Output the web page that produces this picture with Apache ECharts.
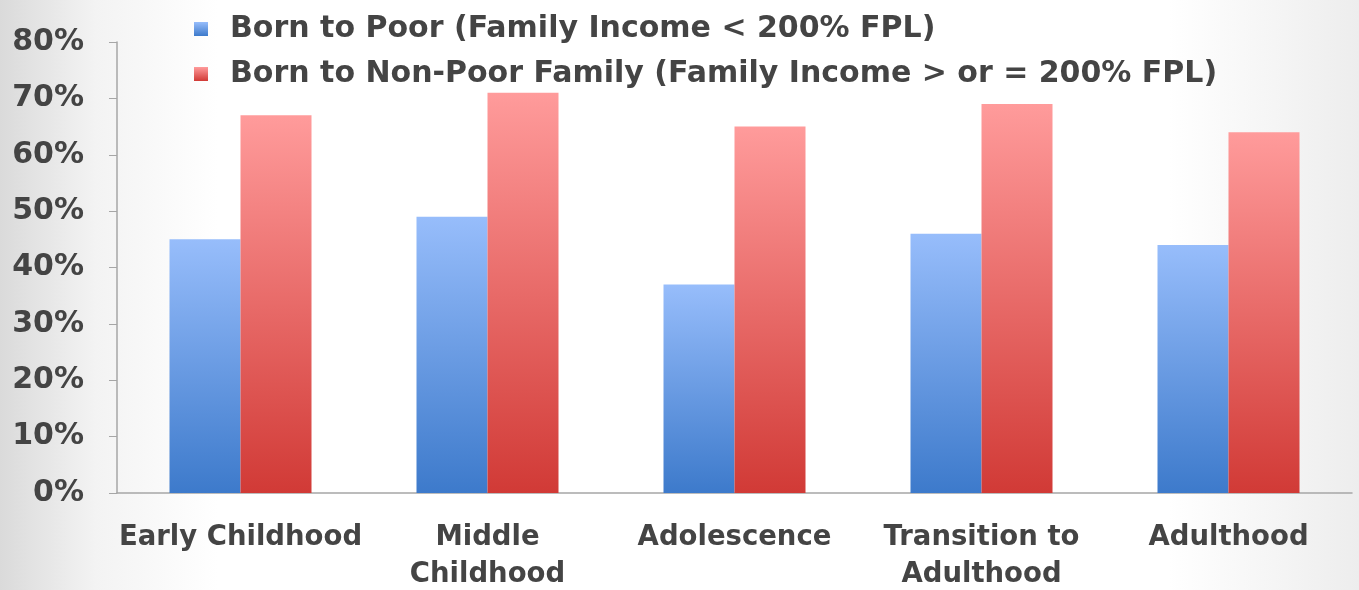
<!DOCTYPE html>
<html><head><meta charset="utf-8">
<script src="https://cdn.jsdelivr.net/npm/echarts@6/dist/echarts.min.js"></script>
<style>html,body{margin:0;padding:0;}#c{width:1359px;height:590px;}</style>
</head><body><div id="c"></div>
<script>
const categories = ['Early Childhood', 'Middle\nChildhood', 'Adolescence', 'Transition to\nAdulthood', 'Adulthood'];
const seriesNames = ['Born to Poor (Family Income < 200% FPL)', 'Born to Non-Poor Family (Family Income > or = 200% FPL)'];
const poorValues = [45, 49, 37, 46, 44];
const nonPoorValues = [67, 71, 65, 69, 64];

const FONT = 'DejaVu Sans';
const TXT = '#444444';
function grad(top, bottom) {
  return new echarts.graphic.LinearGradient(0, 0, 0, 1, [{offset: 0, color: top}, {offset: 1, color: bottom}]);
}
const chart = echarts.init(document.getElementById('c'));
chart.setOption({
  backgroundColor: new echarts.graphic.LinearGradient(0, 0, 1, 0, [
    {offset: 0, color: '#dadada'}, {offset: 0.07, color: '#f3f3f3'}, {offset: 0.16, color: '#ffffff'},
    {offset: 0.86, color: '#ffffff'}, {offset: 1, color: '#ededed'}]),
  animation: false,
  legend: {
    orient: 'vertical', left: 189, top: 9, itemGap: 15,
    itemWidth: 14, itemHeight: 14, icon: 'rect',
    textStyle: {fontFamily: FONT, fontWeight: 'bold', fontSize: 30, color: TXT, padding: [0, 0, 0, 17]},
    data: seriesNames
  },
  grid: {left: 117, right: 7, top: 42, bottom: 97, outerBoundsMode: 'none', containLabel: false},
  xAxis: {
    type: 'category', data: categories,
    axisLine: {lineStyle: {color: '#a6a6a6', width: 1.5}},
    axisTick: {length: 9, lineStyle: {color: '#a6a6a6'}},
    axisLabel: {fontFamily: FONT, fontWeight: 'bold', fontSize: 27.5, color: TXT, margin: 26, lineHeight: 37, interval: 0}
  },
  yAxis: {
    type: 'value', min: 0, max: 80, interval: 10,
    axisLine: {show: true, lineStyle: {color: '#a6a6a6', width: 1.5}},
    axisTick: {show: true, length: 8, lineStyle: {color: '#a6a6a6'}},
    splitLine: {show: false},
    axisLabel: {formatter: '{value}%', fontFamily: FONT, fontWeight: 'bold', fontSize: 30, color: TXT, margin: 33}
  },
  series: [
    {name: seriesNames[0], type: 'bar', data: poorValues, barWidth: 71, barGap: '0%',
     itemStyle: {color: grad('#97bdfb', '#3d7acb')}},
    {name: seriesNames[1], type: 'bar', data: nonPoorValues, barWidth: 71, barGap: '0%',
     itemStyle: {color: grad('#ff9b9b', '#d13a36')}}
  ]
});
</script></body></html>
